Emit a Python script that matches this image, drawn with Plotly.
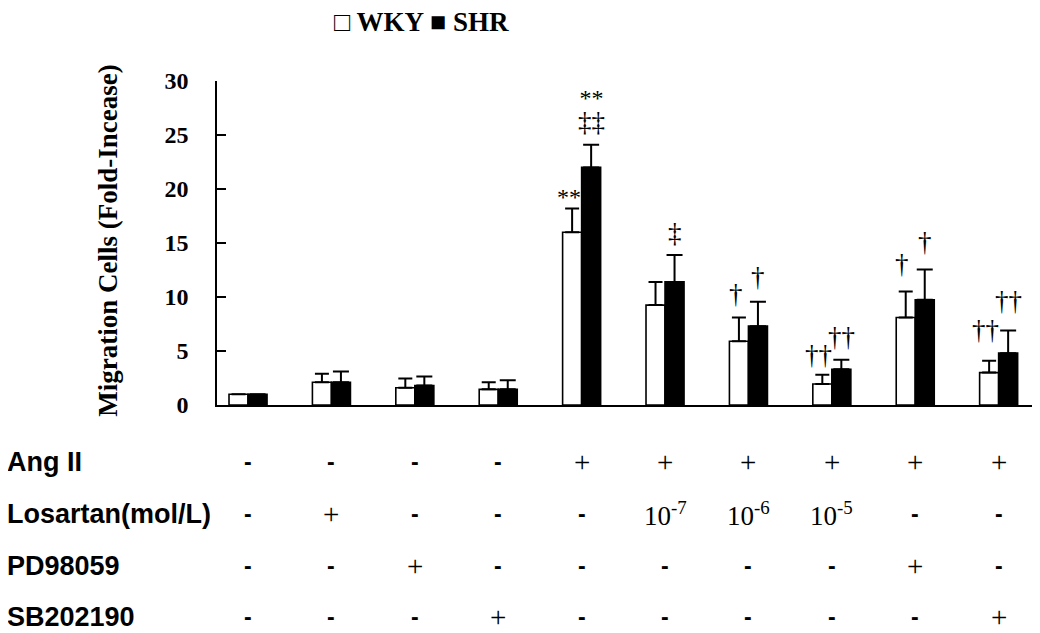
import plotly.graph_objects as go

# ---- data ----
groups = list(range(10))
wky = [1.0, 2.1, 1.6, 1.45, 16.0, 9.25, 5.9, 1.95, 8.1, 3.0]
wky_err = [0.0, 0.8, 0.85, 0.65, 2.2, 2.15, 2.2, 0.85, 2.4, 1.1]
shr = [1.0, 2.1, 1.8, 1.45, 22.0, 11.4, 7.3, 3.3, 9.75, 4.8]
shr_err = [0.0, 1.0, 0.85, 0.85, 2.1, 2.5, 2.25, 0.9, 2.8, 2.1]

# significance marks (text and label y in data units)
sig_wky_text = ["", "", "", "", "**", "", "†", "††", "†", "††"]
sig_wky_y = [0, 0, 0, 0, 19.75, 0, 10.3, 4.6, 13.05, 6.9]
sig_shr_text = ["", "", "", "", "**<br>‡‡", "‡", "†", "††", "†", "††"]
sig_shr_y = [0, 0, 0, 0, 27.2, 15.95, 11.85, 6.3, 15.1, 9.6]

row_labels = ["Ang II", "Losartan(mol/L)", "PD98059", "SB202190"]
row_values = [
    ["-", "-", "-", "-", "+", "+", "+", "+", "+", "+"],
    ["-", "+", "-", "-", "-", "10<sup>-7</sup>", "10<sup>-6</sup>", "10<sup>-5</sup>", "-", "-"],
    ["-", "-", "+", "-", "-", "-", "-", "-", "+", "-"],
    ["-", "-", "-", "+", "-", "-", "-", "-", "-", "+"],
]
row_y = [-0.177, -0.337, -0.498, -0.655]  # paper units

y_ticks = [0, 5, 10, 15, 20, 25, 30]

# ---- geometry / style ----
BW = 0.228
OFF_W = -0.356
OFF_S = -0.128
PAIR = -0.128
SERIF = "Liberation Serif"
SANS = "Liberation Sans"

fig = go.Figure()
fig.add_trace(go.Bar(
    x=groups, y=wky, name="WKY", width=BW, offset=OFF_W,
    marker=dict(color="white", line=dict(color="black", width=1.6)),
    error_y=dict(type="data", array=wky_err, symmetric=False, arrayminus=[0]*10,
                 color="black", thickness=2, width=7),
    showlegend=False,
))
fig.add_trace(go.Bar(
    x=groups, y=shr, name="SHR", width=BW, offset=OFF_S,
    marker=dict(color="black", line=dict(color="black", width=1.6)),
    error_y=dict(type="data", array=shr_err, symmetric=False, arrayminus=[0]*10,
                 color="black", thickness=2, width=8),
    showlegend=False,
))

ann = []

def add_sig(x, y, t, shift=0):
    if "<br>" in t:
        top, bot = t.split("<br>")
        text = ("<span style='font-size:24px'>" + top + "</span><br>"
                "<span style='font-size:27px'>" + bot + "</span>")
        font = dict(family=SERIF, size=19, color="black")
    elif "*" in t:
        text, font = t, dict(family=SERIF, size=24, color="black")
    else:
        text, font = t, dict(family=SERIF, size=27, color="black")
    ann.append(dict(x=x, y=y, xref="x", yref="y", text=text, showarrow=False,
                    xanchor="center", yanchor="middle", yshift=shift, font=font))

for g in groups:
    if sig_wky_text[g]:
        add_sig(g + OFF_W + BW / 2 - 0.04, sig_wky_y[g], sig_wky_text[g],
                -5 if "*" in sig_wky_text[g] else 0)
    if sig_shr_text[g]:
        add_sig(g + OFF_S + BW / 2, sig_shr_y[g], sig_shr_text[g])

# table rows
for r, lab in enumerate(row_labels):
    ann.append(dict(x=-0.2575, y=row_y[r], xref="paper", yref="paper", text=lab,
                    showarrow=False, xanchor="left", yanchor="middle",
                    font=dict(family=SANS, size=27, color="black", weight="bold")))
    for g in groups:
        v = row_values[r][g]
        if v == "-":
            f = dict(family=SANS, size=23, color="black", weight="bold")
        elif v == "+":
            f = dict(family=SERIF, size=29, color="black")
        else:
            f = dict(family=SERIF, size=27, color="black")
        ann.append(dict(x=g + PAIR, y=row_y[r], xref="x", yref="paper", text=v,
                        showarrow=False, xanchor="center", yanchor="middle", font=f))

# legend-like header
ann.append(dict(x=0.2485, y=1.182, xref="paper", yref="paper",
                text="□ WKY ■ SHR", showarrow=False, xanchor="center", yanchor="middle",
                font=dict(family=SERIF, size=27, color="black", weight="bold")))
# y-axis title
ann.append(dict(x=-0.1324, y=0.507, xref="paper", yref="paper",
                text="Migration Cells (Fold-Incease)", textangle=-90, showarrow=False,
                xanchor="center", yanchor="middle",
                font=dict(family=SERIF, size=27, color="black", weight="bold")))

fig.update_layout(
    width=1032, height=625,
    margin=dict(l=209, r=0, t=73, b=227.5),
    paper_bgcolor="white", plot_bgcolor="white",
    barmode="overlay",
    annotations=ann,
    xaxis=dict(range=[-0.5, 9.368], showticklabels=False, ticks="",
               showline=True, linecolor="black", linewidth=1.5,
               showgrid=False, zeroline=False, fixedrange=True),
    yaxis=dict(range=[0, 30], tickvals=y_ticks, ticks="inside", ticklen=9,
               tickwidth=1.5, tickcolor="black",
               showline=True, linecolor="black", linewidth=1.5,
               showgrid=False, zeroline=False, ticklabelstandoff=22,
               tickfont=dict(family=SERIF, size=24, color="black", weight="bold")),
)

fig.write_html("out.html")
